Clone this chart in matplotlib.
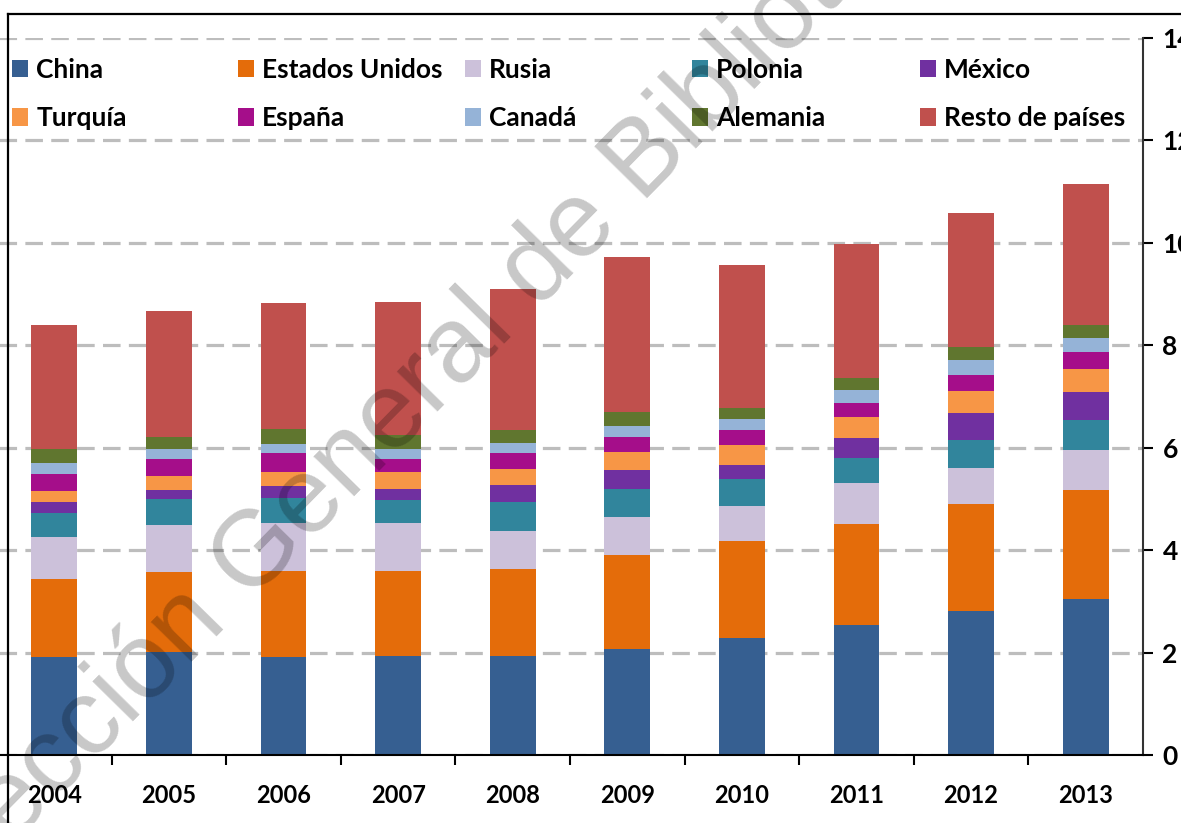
import matplotlib
matplotlib.use("Agg")
import matplotlib.pyplot as plt
from matplotlib.patches import Patch
from matplotlib.lines import Line2D
import numpy as np

plt.rcParams['font.family'] = ['Lato', 'DejaVu Sans']
plt.rcParams['font.weight'] = 'bold'

years = ['2004', '2005', '2006', '2007', '2008', '2009', '2010', '2011', '2012', '2013']

# valores (apilados de abajo a arriba)
china = [1.92, 2.02, 1.92, 1.93, 1.93, 2.06, 2.28, 2.53, 2.81, 3.04]
estados_unidos = [1.51, 1.56, 1.67, 1.66, 1.71, 1.84, 1.90, 1.99, 2.09, 2.13]
rusia = [0.83, 0.91, 0.94, 0.94, 0.74, 0.75, 0.68, 0.79, 0.70, 0.78]
polonia = [0.47, 0.50, 0.49, 0.45, 0.56, 0.54, 0.52, 0.49, 0.56, 0.59]
mexico = [0.21, 0.19, 0.23, 0.21, 0.33, 0.37, 0.29, 0.39, 0.51, 0.54]
turquia = [0.21, 0.26, 0.28, 0.34, 0.32, 0.36, 0.38, 0.41, 0.44, 0.46]
espana = [0.33, 0.34, 0.36, 0.25, 0.30, 0.28, 0.29, 0.27, 0.31, 0.33]
canada = [0.22, 0.20, 0.19, 0.19, 0.20, 0.23, 0.22, 0.26, 0.30, 0.28]
alemania = [0.27, 0.23, 0.28, 0.27, 0.26, 0.26, 0.22, 0.23, 0.25, 0.24]
resto = [2.42, 2.45, 2.47, 2.61, 2.74, 3.03, 2.78, 2.61, 2.62, 2.75]

series = [
    ('China', china, '#365F91'),
    ('Estados Unidos', estados_unidos, '#E46C0A'),
    ('Rusia', rusia, '#CCC1DA'),
    ('Polonia', polonia, '#31859C'),
    ('México', mexico, '#7030A0'),
    ('Turquía', turquia, '#F79646'),
    ('España', espana, '#A50E8A'),
    ('Canadá', canada, '#95B3D7'),
    ('Alemania', alemania, '#60762F'),
    ('Resto de países', resto, '#C0504D'),
]

W, H = 1181, 823
fig = plt.figure(figsize=(W / 100, H / 100), dpi=100)
ax = fig.add_axes([-3 / W, (H - 755) / H, 1146 / W, 717 / H])

x = np.arange(len(years))
bottom = np.zeros(len(years))
handles = []
for name, vals, color in series:
    ax.bar(x, vals, width=0.40, bottom=bottom, color=color, zorder=2)
    bottom += np.array(vals)
    handles.append(Patch(facecolor=color, label=name))

ax.set_xlim(-0.5, len(years) - 0.5)
ax.set_ylim(0, 14)
ax.set_yticks(np.arange(0, 15, 2))
ax.yaxis.tick_right()
ax.tick_params(axis='y', direction='out', length=7, width=1.5, pad=7,
               labelsize=19, colors='black')
ax.grid(axis='y', color='#bdbdbd', linewidth=2.3, linestyle=(0, (5.5, 2.6)), zorder=0)
ax.set_axisbelow(True)

ax.set_xticks(x)
ax.set_xticklabels(years, fontsize=17)
ax.set_xticks(np.arange(0.5, len(years) - 0.5, 1), minor=True)
ax.tick_params(axis='x', which='major', length=0, pad=21)
ax.tick_params(axis='x', which='minor', direction='out', length=7, width=1.5)

for s in ['left', 'top']:
    ax.spines[s].set_visible(False)
ax.spines['right'].set_color('#333333')
ax.spines['right'].set_linewidth(1.5)
ax.spines['bottom'].set_color('black')
ax.spines['bottom'].set_linewidth(1.5)

# leyenda: 5 columnas con separacion uniforme, 2 filas
col_x = [12, 238, 465, 692, 920]
for j, cx in enumerate(col_x):
    fig.legend(handles=[handles[j], handles[j + 5]], loc='upper left',
               bbox_to_anchor=(cx / W, (H - 58) / H), frameon=False,
               fontsize=19, handlelength=0.62, handleheight=0.62,
               handletextpad=0.3, labelspacing=0.92, borderpad=0,
               borderaxespad=0)

# marco de la imagen recortada
fig.add_artist(Line2D([8 / W, 1], [(H - 14) / H, (H - 14) / H], color='black', lw=1.6))
fig.add_artist(Line2D([8 / W, 8 / W], [0, (H - 14) / H], color='black', lw=1.6))

# marca de agua
fig.text(-84 / W, (H - 942) / H, 'Dirección General de Bibliotecas', fontsize=77,
         family='Liberation Sans', fontweight='normal', rotation=45.5,
         rotation_mode='anchor', ha='left', va='baseline', color='black',
         alpha=0.22, zorder=10)

fig.savefig('out.png', dpi=100)
